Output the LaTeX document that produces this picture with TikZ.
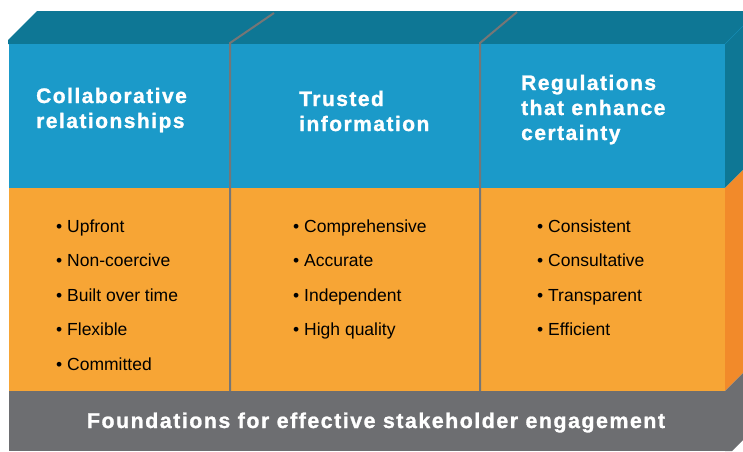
\documentclass[tikz,border=0pt]{standalone}
\usepackage{fontspec}
\setmainfont{Liberation Sans}
\newfontfamily\headfont[LetterSpace=7,FakeBold=1.2]{Liberation Sans}
\usepackage{tikz}
\usetikzlibrary{positioning,calc}

\definecolor{topteal}{HTML}{0E7795}
\definecolor{frontblue}{HTML}{1B9AC9}
\definecolor{frontorange}{HTML}{F7A535}
\definecolor{sideorange}{HTML}{F28A2A}
\definecolor{basegray}{HTML}{6D6E71}
\definecolor{rulegray}{HTML}{767676}

\begin{document}
\begin{tikzpicture}[x=1pt,y=-1pt]
\tikzstyle{heading} = [anchor=base west, inner sep=0pt, align=left, text=white, font={\headfont\bfseries\fontsize{21}{25}\selectfont}]
\tikzstyle{bullets} = [anchor=base west, inner sep=0pt, align=left, text=black, font={\fontsize{17.5}{34.5}\selectfont}]
\tikzstyle{divider} = [rulegray, line width=2pt]
\useasboundingbox (0,0) rectangle (743,451);
\clip (0,0) rectangle (743,451);
%Creating the faces of the box
\fill[topteal] (8,44) -- (8,40) -- (37,11) -- (760,11) -- (760,44) -- cycle;
\fill[frontblue] (9,44) rectangle (725,188);
\fill[frontorange] (9,188) rectangle (725,391);
\fill[basegray] (9,391) rectangle (725,451);
\fill[topteal] (725,44) -- (743,26) -- (743,170) -- (725,188) -- cycle;
\fill[sideorange] (725,188) -- (743,170) -- (743,373) -- (725,391) -- cycle;
\fill[basegray] (725,391) -- (743,373) -- (743,440) -- (732,451) -- (725,451) -- cycle;
\draw[frontblue!60!topteal, line width=0.6pt] (725,44) -- (743,26);
%Coordinates for the column dividers
\coordinate (d1b) at (230,391);
\coordinate (d1f) at (230,43);
\coordinate (d1t) at (274,13);
\coordinate (d2b) at (480,391);
\coordinate (d2f) at (480,43);
\coordinate (d2t) at (517,12);
\begin{scope}[divider]
\draw (d1b) -- (d1f) -- (d1t);
\draw (d2b) -- (d2f) -- (d2t);
\end{scope}
%Creating headings and lists (placed at the baseline of the last line)
\node at (36,128) [heading] (h1) {Collaborative\\relationships};
\node at (299,131) [heading] (h2) {Trusted\\information};
\node at (521,140) [heading] (h3) {Regulations\\that enhance\\certainty};
\node at (56,370) [bullets] (l1) {\textbullet\ Upfront\\\textbullet\ Non-coercive\\\textbullet\ Built over time\\\textbullet\ Flexible\\\textbullet\ Committed};
\node at (293,335.5) [bullets] (l2) {\textbullet\ Comprehensive\\\textbullet\ Accurate\\\textbullet\ Independent\\\textbullet\ High quality};
\node at (537,335.5) [bullets] (l3) {\textbullet\ Consistent\\\textbullet\ Consultative\\\textbullet\ Transparent\\\textbullet\ Efficient};
\node at (376,428) [heading, anchor=base, font={\headfont\bfseries\fontsize{21.4}{25}\selectfont}] (base) {Foundations for effective stakeholder engagement};
\end{tikzpicture}
\end{document}
